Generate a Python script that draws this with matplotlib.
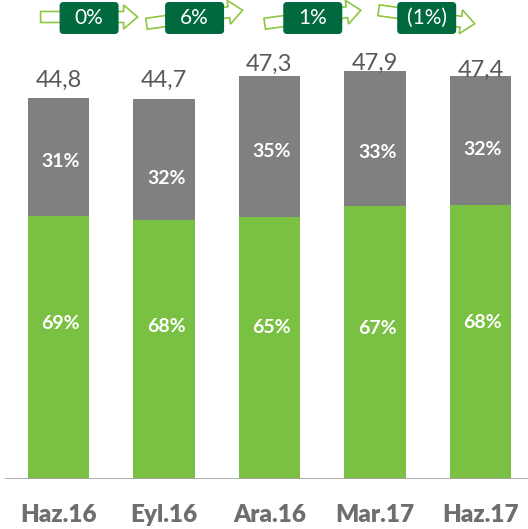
import numpy as np
import matplotlib
matplotlib.use("Agg")
import matplotlib.pyplot as plt
from matplotlib.patches import Polygon, FancyBboxPatch

# data
periods = ['Haz.16', 'Eyl.16', 'Ara.16', 'Mar.17', 'Haz.17']
totals = [44.8, 44.7, 47.3, 47.9, 47.4]
green_pct = [69, 68, 65, 67, 68]
gray_pct = [31, 32, 35, 33, 32]
growth = [0, 6, 1, -1]
growth_labels = ['0%', '6%', '1%', '(1%)']

# layout tweaks (label placement as in the original slide)
value_lift = [1.26, 1.36, 0.64, 0.16, -0.17]
gray_lbl_pos = [0.46, 0.34, 0.47, 0.40, 0.43]
green_lbl_pos = [0.59, 0.59, 0.58, 0.55, 0.57]
arrow_offset = [0.29, 0.29, 0.41, 0.49]

GREEN = '#7AC143'
GRAY = '#808080'
DARK_GREEN = '#00693E'
ARROW_GREEN = '#8DC63F'

plt.rcParams['font.family'] = ['Lato', 'DejaVu Sans']

W, H = 528, 529
fig = plt.figure(figsize=(W / 100, H / 100), dpi=100)
ax = fig.add_axes([0, 50 / H, 1, 479 / H])
ax.set_xlim(-58.5 / 105.5, (W - 58.5) / 105.5)
ax.set_ylim(0, 479 / 8.51)
ax.axis('off')

x = np.arange(len(periods))
tot = np.array(totals)
green = tot * np.array(green_pct) / 100
gray = tot - green

ax.bar(x, green, width=0.58, color=GREEN)
ax.bar(x, gray, width=0.58, bottom=green, color=GRAY)
ax.axhline(0, xmin=6 / W, xmax=1, color='#A6A6A6', lw=2)

for i in range(len(periods)):
    ax.text(i, totals[i] + value_lift[i], f"{totals[i]:.1f}".replace('.', ','),
            ha='center', va='baseline', fontsize=17, color='#595959')
    ax.text(i + 0.02, green[i] + gray[i] * gray_lbl_pos[i], f"{gray_pct[i]}%",
            ha='center', va='center', fontsize=14, fontweight='bold', color='white')
    ax.text(i + 0.02, green[i] * green_lbl_pos[i], f"{green_pct[i]}%",
            ha='center', va='center', fontsize=14, fontweight='bold', color='white')
    ax.text(i, -43 / 8.51, periods[i], ha='center', va='baseline', fontsize=17.5,
            fontweight='heavy', color='#6E6E6E', clip_on=False)

# growth arrows with boxes, drawn in pixel space
fig.canvas.draw()
L, shaft, head_h, head_l = 97, 5.5, 12, 14
for i, g in enumerate(growth):
    cx = ax.transData.transform((i + arrow_offset[i], 0))[0]
    cy = H - 17
    ang = np.deg2rad(8 * np.sign(g))
    local = np.array([(-L / 2, -shaft), (L / 2 - head_l, -shaft), (L / 2 - head_l, -head_h),
                      (L / 2, 0), (L / 2 - head_l, head_h), (L / 2 - head_l, shaft),
                      (-L / 2, shaft)])
    rot = np.array([[np.cos(ang), -np.sin(ang)], [np.sin(ang), np.cos(ang)]])
    pts = local @ rot.T + [cx, cy]
    pts = pts / [W, H]
    fig.add_artist(Polygon(pts, closed=True, facecolor='white', edgecolor=ARROW_GREEN,
                           lw=1.2, transform=fig.transFigure))
    bw, bh = 59, 32
    by = H - 18
    fig.add_artist(FancyBboxPatch(((cx - bw / 2) / W, (by - bh / 2) / H), bw / W, bh / H,
                                  boxstyle=f"round,pad=0,rounding_size={4 / W}",
                                  facecolor=DARK_GREEN, edgecolor='none',
                                  transform=fig.transFigure))
    fig.text(cx / W, by / H, growth_labels[i], ha='center', va='center',
             fontsize=15, color='white')

fig.savefig('out.png', dpi=100)
